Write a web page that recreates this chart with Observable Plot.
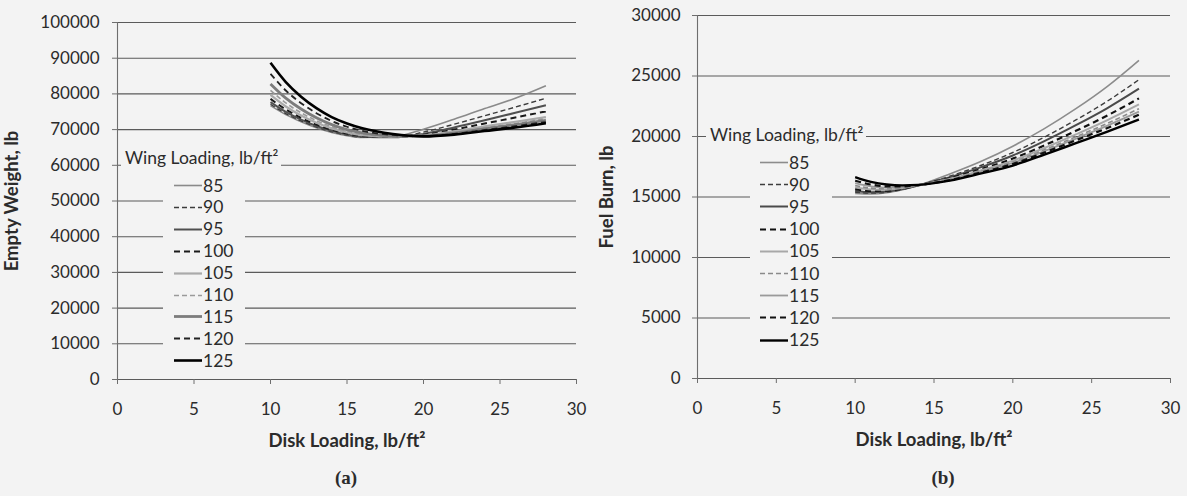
<!DOCTYPE html>
<html>
<head>
<meta charset="utf-8">
<script src="https://cdn.jsdelivr.net/npm/d3@7"></script>
<script src="https://cdn.jsdelivr.net/npm/@observablehq/plot@0.6"></script>
<style>
  html, body { margin: 0; padding: 0; background: #f3f3f3; }
  #wrap { position: relative; width: 1187px; height: 496px; overflow: hidden; font-family: Lato, "Open Sans", sans-serif; color: #2b2b2b; }
  .panel { position: absolute; top: 0; }
  .panel svg { overflow: visible; }
  .box { position: absolute; background: #f3f3f3; }
  .ltitle { position: absolute; background: #f3f3f3; font-size: 17.5px; line-height: 22px; white-space: nowrap; padding: 0 3px 0 4px; }
  .entry { position: absolute; height: 22px; display: flex; align-items: center; font-size: 17.5px; white-space: nowrap; }
  .entry svg { display: block; margin-right: 1px; }
  .cap { position: absolute; font-family: "Liberation Serif", "DejaVu Serif", serif; font-weight: bold; font-size: 19px; transform: translate(-50%, -50%); }
</style>
</head>
<body>
<div id="wrap"></div>
<script>
// ---------- data ----------
const wingLoadings = [85, 90, 95, 100, 105, 110, 115, 120, 125];
const xTicks = [0, 5, 10, 15, 20, 25, 30];
const ewTicks = [0, 10000, 20000, 30000, 40000, 50000, 60000, 70000, 80000, 90000, 100000];
const fbTicks = [0, 5000, 10000, 15000, 20000, 25000, 30000];

// (a) Empty weight vs disk loading
const diskA = [10, 11, 12, 13, 14, 15, 16, 18, 20, 22, 24, 26, 28];
const ew85  = [76700, 74200, 72200, 70500, 69200, 68300, 67800, 68000, 70100, 72900, 75900, 78800, 82300];
const ew90  = [77100, 74500, 72430, 70700, 69400, 68450, 67900, 67850, 69300, 71500, 73900, 76300, 78800];
const ew95  = [77700, 74960, 72780, 71000, 69650, 68650, 68000, 67850, 68800, 70600, 72600, 74700, 76800];
const ew100 = [78600, 75640, 73310, 71400, 69950, 68900, 68200, 67900, 68500, 70000, 71700, 73400, 75100];
const ew105 = [79700, 76480, 73950, 71900, 70350, 69200, 68450, 68000, 68300, 69500, 70900, 72200, 73500];
const ew110 = [81000, 77460, 74710, 72500, 70800, 69550, 68700, 68150, 68250, 69200, 70500, 71700, 73000];
const ew115 = [82800, 78820, 75760, 73300, 71400, 70000, 69050, 68300, 68200, 69000, 70200, 71400, 72600];
const ew120 = [85600, 80950, 77390, 74600, 72400, 70800, 69650, 68500, 68150, 68800, 69900, 71000, 72100];
const ew125 = [88700, 83300, 79200, 76000, 73500, 71700, 70350, 68750, 68100, 68600, 69600, 70600, 71800];

// (b) Fuel burn vs disk loading
const diskB = [10, 11, 12, 13, 14, 16, 18, 20, 22, 24, 26, 28];
const fb85  = [15300, 15250, 15350, 15600, 15950, 16900, 17950, 19200, 20650, 22300, 24150, 26300];
const fb90  = [15400, 15324, 15400, 15627, 15955, 16720, 17623, 18677, 19947, 21368, 22924, 24700];
const fb95  = [15500, 15398, 15451, 15653, 15960, 16636, 17470, 18432, 19618, 20932, 22350, 23950];
const fb100 = [15650, 15509, 15526, 15693, 15965, 16546, 17307, 18171, 19268, 20467, 21739, 23150];
const fb105 = [15800, 15620, 15602, 15733, 15970, 16490, 17205, 18008, 19048, 20177, 21356, 22650];
const fb110 = [15950, 15731, 15677, 15773, 15975, 16451, 17134, 17894, 18896, 19974, 21090, 22300];
const fb115 = [16150, 15880, 15778, 15827, 15980, 16423, 17083, 17813, 18786, 19829, 20899, 22050];
const fb120 = [16350, 16028, 15879, 15880, 15990, 16395, 17032, 17731, 18676, 19684, 20708, 21800];
const fb125 = [16650, 16250, 16030, 15960, 16000, 16350, 16950, 17600, 18500, 19450, 20400, 21400];

const ewSeries = [ew85, ew90, ew95, ew100, ew105, ew110, ew115, ew120, ew125];
const fbSeries = [fb85, fb90, fb95, fb100, fb105, fb110, fb115, fb120, fb125];

// ---------- styles (one per wing loading) ----------
const stylesA = [
  {stroke: "#8a8a8a", width: 1.6, dash: null},
  {stroke: "#3c3c3c", width: 1.4, dash: "5,3"},
  {stroke: "#505050", width: 2.0, dash: null},
  {stroke: "#1a1a1a", width: 2.0, dash: "6,4"},
  {stroke: "#aaaaaa", width: 2.2, dash: null},
  {stroke: "#9a9a9a", width: 1.6, dash: "5,3"},
  {stroke: "#7c7c7c", width: 2.8, dash: null},
  {stroke: "#222222", width: 1.8, dash: "6,4"},
  {stroke: "#000000", width: 2.6, dash: null}
];
const stylesB = [
  {stroke: "#8c8c8c", width: 1.6, dash: null},
  {stroke: "#3c3c3c", width: 1.4, dash: "5,3"},
  {stroke: "#4a4a4a", width: 2.0, dash: null},
  {stroke: "#111111", width: 2.2, dash: "6,4"},
  {stroke: "#a8a8a8", width: 2.0, dash: null},
  {stroke: "#8a8a8a", width: 1.6, dash: "5,3"},
  {stroke: "#9a9a9a", width: 1.8, dash: null},
  {stroke: "#111111", width: 2.2, dash: "6,4"},
  {stroke: "#000000", width: 2.4, dash: null}
];

const wrap = document.getElementById("wrap");
const fmt = d3.format("d");

function makePanel(o) {
  const lines = o.series.map((vals, i) => {
    const data = o.xs.map((x, j) => ({x, y: vals[j]}));
    const s = o.styles[i];
    return Plot.line(data, {
      x: "x", y: "y", curve: "monotone-x",
      stroke: s.stroke, strokeWidth: s.width,
      strokeDasharray: s.dash ?? undefined, strokeLinecap: "butt"
    });
  });
  const chart = Plot.plot({
    width: o.width, height: o.height,
    marginLeft: o.marginLeft, marginRight: o.marginRight,
    marginTop: o.marginTop, marginBottom: o.marginBottom,
    style: {background: "transparent", fontFamily: "Lato, 'Open Sans', sans-serif", fontSize: "17px", color: "#2b2b2b"},
    x: {domain: [0, 30]},
    y: {domain: o.yDomain},
    marks: [
      Plot.gridY(o.yTicks, {stroke: "#5a5a5a", strokeOpacity: 1, strokeWidth: 1.1}),
      Plot.ruleX([0], {stroke: "#6e6e6e", strokeWidth: 1.1}),
      Plot.axisY(o.yTicks, {tickSize: 5, tickPadding: o.yPad, tickFormat: fmt, label: null, stroke: "#6e6e6e"}),
      Plot.axisX(xTicks, {tickSize: 5, tickPadding: 18, tickFormat: fmt, label: null, stroke: "#6e6e6e"}),
      Plot.text([o.yLabel], {frameAnchor: "left", textAnchor: "middle", lineAnchor: "middle", rotate: -90, dx: o.yTitleDx, fontWeight: "bold", fontSize: 18.5}),
      Plot.text([o.xLabel], {frameAnchor: "bottom", textAnchor: "middle", lineAnchor: "middle", dy: 62, fontWeight: "bold", fontSize: 18.5}),
      ...lines
    ]
  });
  const div = document.createElement("div");
  div.className = "panel";
  div.style.left = o.left + "px";
  div.appendChild(chart);
  wrap.appendChild(div);
}

function makeLegend(o) {
  const box = document.createElement("div");
  box.className = "box";
  Object.assign(box.style, {left: o.boxLeft + "px", top: o.boxTop + "px", width: o.boxW + "px", height: o.boxH + "px"});
  wrap.appendChild(box);
  const t = document.createElement("div");
  t.className = "ltitle";
  t.textContent = "Wing Loading, lb/ft²";
  Object.assign(t.style, {left: o.titleLeft + "px", top: (o.titleY - 11) + "px"});
  wrap.appendChild(t);
  wingLoadings.forEach((w, i) => {
    const s = o.styles[i];
    const e = document.createElement("div");
    e.className = "entry";
    e.style.left = o.lineLeft + "px";
    e.style.top = (o.firstY + i * o.step - 11) + "px";
    const ns = "http://www.w3.org/2000/svg";
    const svg = document.createElementNS(ns, "svg");
    svg.setAttribute("width", 28); svg.setAttribute("height", 22);
    const ln = document.createElementNS(ns, "line");
    ln.setAttribute("x1", 0); ln.setAttribute("x2", 28);
    ln.setAttribute("y1", 11.5); ln.setAttribute("y2", 11.5);
    ln.setAttribute("stroke", s.stroke);
    ln.setAttribute("stroke-width", s.width);
    if (s.dash) ln.setAttribute("stroke-dasharray", s.dash);
    svg.appendChild(ln);
    e.appendChild(svg);
    const sp = document.createElement("span");
    sp.textContent = w;
    e.appendChild(sp);
    wrap.appendChild(e);
  });
}

makePanel({
  left: 0, width: 590, height: 460, marginLeft: 117, marginRight: 14, marginTop: 22, marginBottom: 81,
  yDomain: [0, 100000], yTicks: ewTicks, yPad: 13, yTitleDx: -105,
  yLabel: "Empty Weight, lb", xLabel: "Disk Loading, lb/ft²",
  xs: diskA, series: ewSeries, styles: stylesA
});
makePanel({
  left: 590, width: 597, height: 460, marginLeft: 107, marginRight: 17, marginTop: 15, marginBottom: 82,
  yDomain: [0, 30000], yTicks: fbTicks, yPad: 12, yTitleDx: -90,
  yLabel: "Fuel Burn, lb", xLabel: "Disk Loading, lb/ft²",
  xs: diskB, series: fbSeries, styles: stylesB
});

makeLegend({boxLeft: 163, boxTop: 174, boxW: 82, boxH: 198, titleLeft: 121, titleY: 158,
  lineLeft: 174, firstY: 185, step: 21.9, styles: stylesA});
makeLegend({boxLeft: 750, boxTop: 150, boxW: 82, boxH: 202, titleLeft: 706, titleY: 135,
  lineLeft: 760, firstY: 162, step: 22.2, styles: stylesB});

const capA = document.createElement("div");
capA.className = "cap"; capA.textContent = "(a)";
Object.assign(capA.style, {left: "346px", top: "478px"});
wrap.appendChild(capA);
const capB = document.createElement("div");
capB.className = "cap"; capB.textContent = "(b)";
Object.assign(capB.style, {left: "943px", top: "478px"});
wrap.appendChild(capB);
</script>
</body>
</html>
